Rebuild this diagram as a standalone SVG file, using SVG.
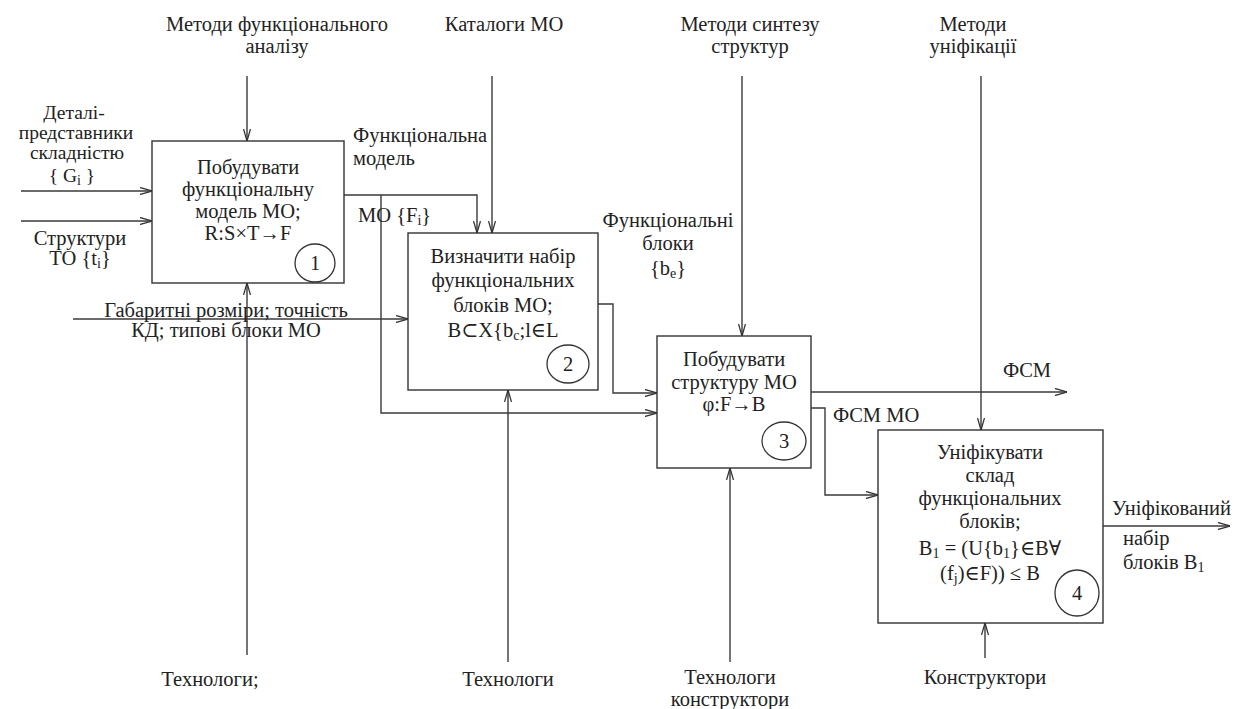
<svg xmlns="http://www.w3.org/2000/svg" width="1241" height="709" viewBox="0 0 1241 709" font-family="'Liberation Serif', 'DejaVu Serif', serif">
<defs>
<style>
text{font-family:'Liberation Serif','DejaVu Serif',serif;font-size:20.5px;fill:#222;}
.m{text-anchor:middle;}
.s{font-size:19.5px;}
.sub{font-size:14px;baseline-shift:-3px;}
.box{fill:#fff;stroke:#333;stroke-width:1.4;}
.num{fill:none;stroke:#333;stroke-width:1.3;}
.c{fill:none;stroke:#3a3a3a;stroke-width:1.4;}
</style>
<marker id="ar" viewBox="0 0 12 8" refX="12" refY="4" markerWidth="12" markerHeight="8" markerUnits="userSpaceOnUse" orient="auto">
<path d="M0,0.5 L12,4 L0,7.5" fill="none" stroke="#333" stroke-width="1.3"/>
</marker>
</defs>

<g id="connectors">
<path class="c" d="M247,76 V141" marker-end="url(#ar)"/>
<path class="c" d="M492,76 V233" marker-end="url(#ar)"/>
<path class="c" d="M742,76 V336" marker-end="url(#ar)"/>
<path class="c" d="M981,76 V430" marker-end="url(#ar)"/>
<path class="c" d="M21,191 H152" marker-end="url(#ar)"/>
<path class="c" d="M21,221 H152" marker-end="url(#ar)"/>
<path class="c" d="M73,319 H408" marker-end="url(#ar)"/>
<path class="c" d="M344,195 H477 V233" marker-end="url(#ar)"/>
<path class="c" d="M381,195 V413 H657" marker-end="url(#ar)"/>
<path class="c" d="M598,304 H613 V393 H657" marker-end="url(#ar)"/>
<path class="c" d="M811,392 H1067" marker-end="url(#ar)"/>
<path class="c" d="M811,408 H825 V495 H878" marker-end="url(#ar)"/>
<path class="c" d="M1103,526 H1230" marker-end="url(#ar)"/>
<path class="c" d="M247,655 V283" marker-end="url(#ar)"/>
<path class="c" d="M508,662 V390" marker-end="url(#ar)"/>
<path class="c" d="M730,662 V468" marker-end="url(#ar)"/>
<path class="c" d="M985,658 V623" marker-end="url(#ar)"/>
</g>

<g id="node1">
<rect class="box" x="152" y="141" width="192" height="142"/>
<text class="m" x="248" y="174">Побудувати</text>
<text class="m" x="248" y="196">функціональну</text>
<text class="m" x="248" y="218">модель МО;</text>
<text class="m" x="248" y="240">R:S×T→F</text>
<ellipse class="num" cx="315" cy="263" rx="20" ry="19"/>
<text class="m" x="315" y="270">1</text>
</g>

<g id="node2">
<rect class="box" x="408" y="233" width="190" height="157"/>
<text class="m" x="503" y="263">Визначити набір</text>
<text class="m" x="503" y="287">функціональних</text>
<text class="m" x="503" y="312">блоків МО;</text>
<text class="m" x="503" y="337">B⊂X{b<tspan class="sub">c</tspan>;l∈L</text>
<ellipse class="num" cx="568" cy="364" rx="21" ry="19"/>
<text class="m" x="568" y="371">2</text>
</g>

<g id="node3">
<rect class="box" x="657" y="336" width="154" height="132"/>
<text class="m" x="734" y="366">Побудувати</text>
<text class="m" x="734" y="389">структуру МО</text>
<text class="m" x="734" y="411">φ:F→B</text>
<ellipse class="num" cx="784" cy="441" rx="22" ry="19"/>
<text class="m" x="784" y="448">3</text>
</g>

<g id="node4">
<rect class="box" x="878" y="430" width="225" height="193"/>
<text class="m" x="990" y="459">Уніфікувати</text>
<text class="m" x="990" y="482">склад</text>
<text class="m" x="990" y="505">функціональних</text>
<text class="m" x="990" y="528">блоків;</text>
<text class="m" x="990" y="555">B<tspan class="sub">1</tspan> = (U{b<tspan class="sub">1</tspan>}∈B∀</text>
<text class="m" x="990" y="580">(f<tspan class="sub">j</tspan>)∈F)) ≤ B</text>
<ellipse class="num" cx="1077" cy="593" rx="22" ry="23"/>
<text class="m" x="1077" y="600">4</text>
</g>

<g id="labels">
<text class="m" x="277" y="31">Методи функціонального</text>
<text class="m" x="277" y="53">аналізу</text>
<text class="m" x="504" y="31">Каталоги МО</text>
<text class="m" x="750" y="31">Методи синтезу</text>
<text class="m" x="750" y="53">структур</text>
<text class="m" x="973" y="31">Методи</text>
<text class="m" x="973" y="53">уніфікації</text>

<text class="m s" x="74" y="119">Деталі-</text>
<text class="m s" x="76" y="139">представники</text>
<text class="m s" x="77" y="159">складністю</text>
<text class="m s" x="72" y="182">{ G<tspan class="sub">i</tspan> }</text>
<text class="m" x="80" y="245">Структури</text>
<text class="m" x="80" y="265">ТО {t<tspan class="sub">i</tspan>}</text>

<text class="m" x="226" y="317">Габаритні розміри; точність</text>
<text class="m" x="226" y="337">КД; типові блоки МО</text>

<text x="353" y="142">Функціональна</text>
<text x="353" y="165">модель</text>
<text x="358" y="222">МО {F<tspan class="sub">i</tspan>}</text>

<text class="m" x="668" y="227">Функціональні</text>
<text class="m" x="668" y="250">блоки</text>
<text class="m" x="668" y="275">{b<tspan class="sub">e</tspan>}</text>

<text x="1003" y="377">ФСМ</text>
<text x="833" y="422">ФСМ МО</text>

<text x="1112" y="515">Уніфікований</text>
<text x="1123" y="545">набір</text>
<text x="1123" y="569">блоків B<tspan class="sub">1</tspan></text>

<text class="m" x="210" y="686">Технологи;</text>
<text class="m" x="508" y="686">Технологи</text>
<text class="m" x="730" y="684">Технологи</text>
<text class="m" x="730" y="706">конструктори</text>
<text class="m" x="985" y="684">Конструктори</text>
</g>
</svg>
